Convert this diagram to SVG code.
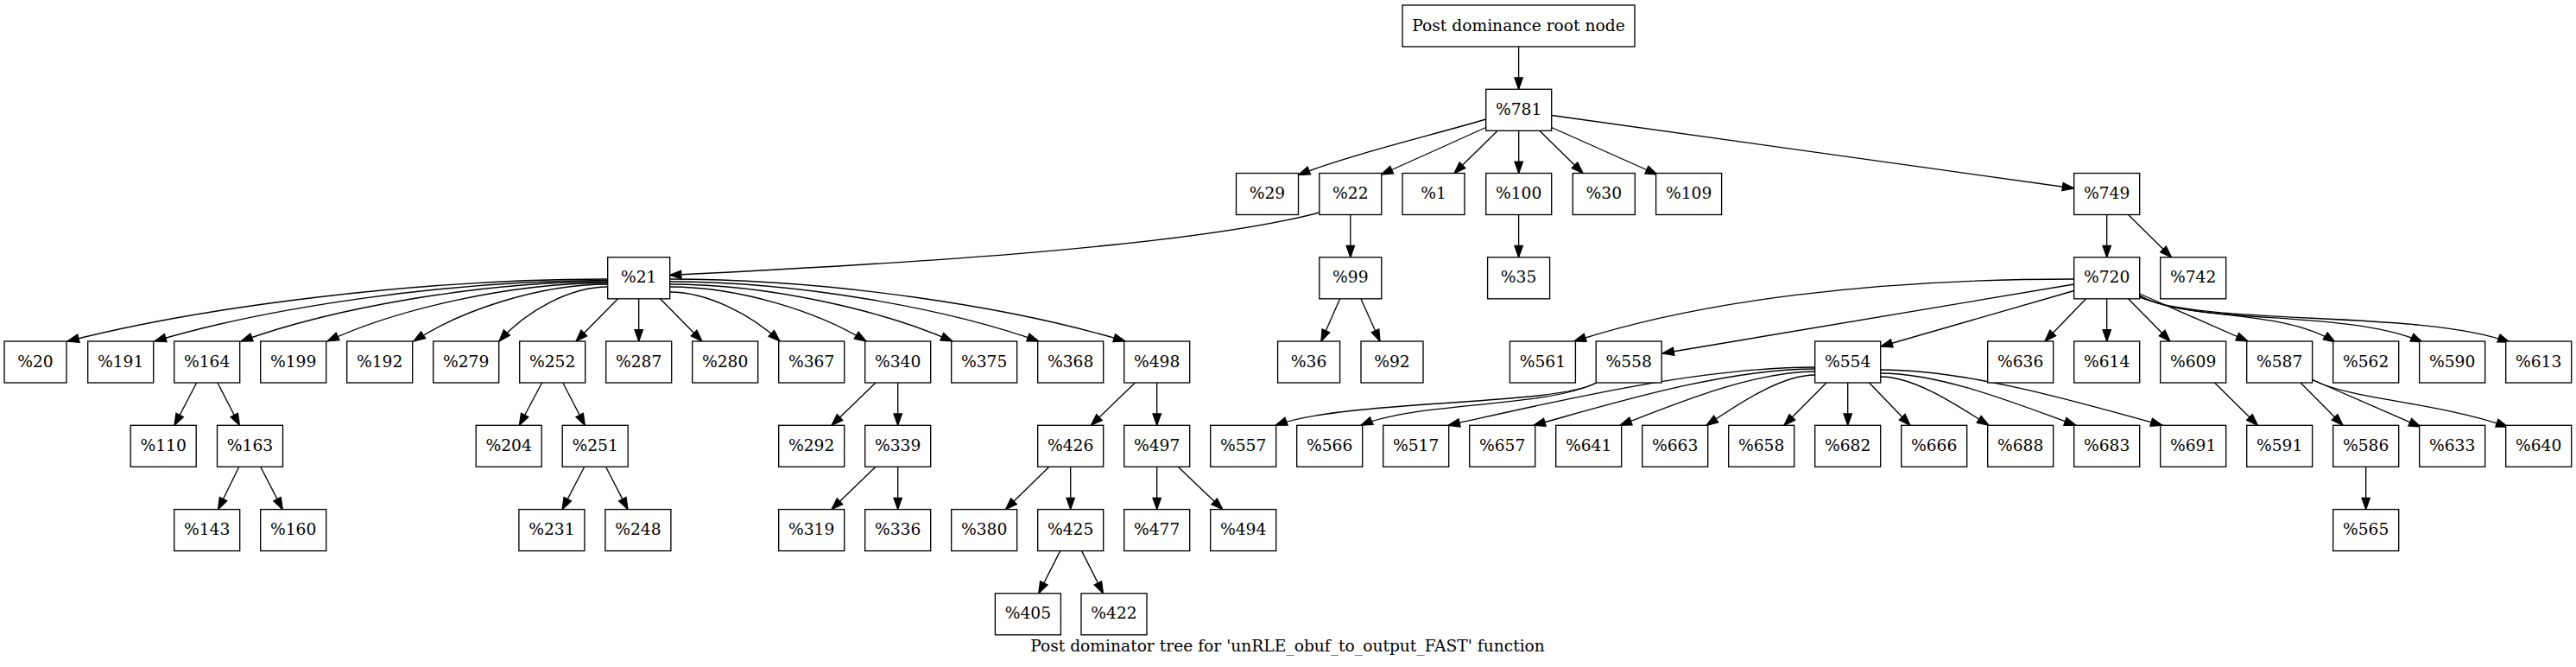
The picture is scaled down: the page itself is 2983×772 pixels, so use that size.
<svg xmlns="http://www.w3.org/2000/svg" width="2983" height="772" viewBox="0 0 2983 772">
<style>
.n rect{fill:#fff;stroke:#000;stroke-width:1.33}
.n text,.cap{font-family:"DejaVu Serif",serif;font-size:18.67px;text-anchor:middle;fill:#000}
.e path{fill:none;stroke:#000;stroke-width:1.33;marker-end:url(#a)}
</style>
<defs>
<marker id="a" viewBox="0 0 14 10" refX="13.3" refY="5" markerWidth="14" markerHeight="10" markerUnits="userSpaceOnUse" orient="auto" overflow="visible">
<path d="M0,0.33 L13.3,5 L0,9.67 Z" fill="#000" stroke="#000" stroke-width="1.33"/>
</marker>
</defs>
<rect width="2983" height="772" fill="#fff"/>
<g id="edges" class="e">
<path d="M1758.6,54 L1758.6,103.3"/>
<path d="M1720.7,138 C1660,156 1560,180 1503.5,202.5"/>
<path d="M1720.7,147.5 L1599.5,202"/>
<path d="M1734,151.5 L1684,200.5"/>
<path d="M1758.7,151.3 L1758.7,200.5"/>
<path d="M1783,151.5 L1833,200.5"/>
<path d="M1796.7,147.5 L1919,202"/>
<path d="M1796.7,133.5 L2401.7,218"/>
<path d="M1527.7,246 C1380,285 1050,305 775.5,318.5"/>
<path d="M1563.8,248.5 L1563.8,297.8"/>
<path d="M1758.6,248.5 L1758.6,297.8"/>
<path d="M2439.7,248.5 L2439.7,297.8"/>
<path d="M2464.5,248.5 L2514.5,297.8"/>
<path d="M1551.7,345.8 L1530,395"/>
<path d="M1575.9,345.8 L1598,395"/>
<path d="M703.7,323 C485,323 234,355 78,395"/>
<path d="M703.7,324.5 C520,324.5 309,356 179,395"/>
<path d="M703.7,326 C555,326 384,357 279,395"/>
<path d="M703.7,327.5 C590,327.5 459,358 379,395"/>
<path d="M703.7,329 C625,329 534,359 479,395"/>
<path d="M703.7,332 C660,332 609,360 578,395"/>
<path d="M715.6,345.8 L667,395"/>
<path d="M739.7,345.8 L739.7,395"/>
<path d="M764.5,345.8 L813,395"/>
<path d="M775.7,338 C819,338 870,364 903,395"/>
<path d="M775.7,332 C855,332 946,360 1003,395"/>
<path d="M775.7,329 C890,329 1021,359 1103,395"/>
<path d="M775.7,326 C925,326 1096,357 1203,395"/>
<path d="M775.7,323 C960,323 1171,355 1303,395"/>
<path d="M227.7,443 L202,492.3"/>
<path d="M251.9,443 L277.4,492.3"/>
<path d="M627.6,443 L601.4,492.3"/>
<path d="M651.8,443 L677.3,492.3"/>
<path d="M276.8,540.3 L252.6,589.6"/>
<path d="M301.7,540.3 L327.2,589.6"/>
<path d="M676.7,540.3 L651.1,589.6"/>
<path d="M701.5,540.3 L727,589.6"/>
<path d="M1014,443 L963,492.3"/>
<path d="M1039.7,443 L1039.7,492.3"/>
<path d="M1014,540.3 L963,589.6"/>
<path d="M1039.7,540.3 L1039.7,589.6"/>
<path d="M1314.4,443 L1263.4,492.3"/>
<path d="M1339.7,443 L1339.7,492.3"/>
<path d="M1214.9,540.3 L1164.5,589.6"/>
<path d="M1239.7,540.3 L1239.7,589.6"/>
<path d="M1339.7,540.3 L1339.7,589.6"/>
<path d="M1364.2,540.3 L1415.8,589.6"/>
<path d="M1227.7,637.6 L1202.8,686.8"/>
<path d="M1252.6,637.6 L1277.4,686.8"/>
<path d="M2401.7,323 C2170,323 1968,348 1823,395"/>
<path d="M2401.7,329 L1925,409"/>
<path d="M2401.7,336.5 L2178,401"/>
<path d="M2415.6,345.8 L2368,395"/>
<path d="M2439.7,345.8 L2439.7,395"/>
<path d="M2464.5,345.8 L2513,395"/>
<path d="M2477.7,340 L2603,395"/>
<path d="M2477.7,342 C2530,372 2640,356 2704,396"/>
<path d="M2477.7,343 C2545,377 2720,358 2805,396"/>
<path d="M2477.7,344 C2560,378 2800,358 2906,396"/>
<path d="M2101.7,425 C1961,425 1783,469 1677,492.3"/>
<path d="M2101.7,427 C1994,427 1857,470 1776,492.3"/>
<path d="M2101.7,430 C2027,430 1932,471 1876,492.3"/>
<path d="M2101.7,434 C2060,434 2007,472 1976,492.3"/>
<path d="M2115,443 L2066,492.3"/>
<path d="M2139.7,443 L2139.7,492.3"/>
<path d="M2164.5,443 L2212,492.3"/>
<path d="M2177.7,436 C2219,436 2272,473 2303,492.3"/>
<path d="M2177.7,432 C2252,432 2347,472 2404,492.3"/>
<path d="M2177.7,428 C2285,428 2422,470 2504,492.3"/>
<path d="M1848.6,443 C1800,470 1560,462 1477,492.3"/>
<path d="M1848.6,443 C1790,472 1640,465 1576,492.3"/>
<path d="M2564.6,443 L2614.4,492.3"/>
<path d="M2664,443 L2713,492.3"/>
<path d="M2677.7,439.5 L2803,494"/>
<path d="M2677.7,439.5 C2720,462 2820,465 2904,494"/>
<path d="M2739.7,540.3 L2739.7,589.6"/>
</g>
<g id="root" class="n"><rect x="1624" y="6" width="269" height="48"/><text x="1758.5" y="35.5">Post dominance root node</text></g>
<g id="n781" class="n"><rect x="1720.7" y="103.3" width="76" height="48"/><text x="1758.7" y="132.8">%781</text></g>
<g id="n29" class="n"><rect x="1431.5" y="200.5" width="72" height="48"/><text x="1467.5" y="230">%29</text></g>
<g id="n22" class="n"><rect x="1527.8" y="200.5" width="72" height="48"/><text x="1563.8" y="230">%22</text></g>
<g id="n1" class="n"><rect x="1624" y="200.5" width="72" height="48"/><text x="1660" y="230">%1</text></g>
<g id="n100" class="n"><rect x="1720.7" y="200.5" width="76" height="48"/><text x="1758.7" y="230">%100</text></g>
<g id="n30" class="n"><rect x="1821.3" y="200.5" width="72" height="48"/><text x="1857.3" y="230">%30</text></g>
<g id="n109" class="n"><rect x="1917.6" y="200.5" width="76" height="48"/><text x="1955.6" y="230">%109</text></g>
<g id="n749" class="n"><rect x="2401.7" y="200.5" width="76" height="48"/><text x="2439.7" y="230">%749</text></g>
<g id="n21" class="n"><rect x="703.7" y="297.8" width="72" height="48"/><text x="739.7" y="327.3">%21</text></g>
<g id="n99" class="n"><rect x="1527.8" y="297.8" width="72" height="48"/><text x="1563.8" y="327.3">%99</text></g>
<g id="n35" class="n"><rect x="1722.6" y="297.8" width="72" height="48"/><text x="1758.6" y="327.3">%35</text></g>
<g id="n720" class="n"><rect x="2401.7" y="297.8" width="76" height="48"/><text x="2439.7" y="327.3">%720</text></g>
<g id="n742" class="n"><rect x="2501.7" y="297.8" width="76" height="48"/><text x="2539.7" y="327.3">%742</text></g>
<g id="n20" class="n"><rect x="5" y="395" width="72" height="48"/><text x="41" y="424.5">%20</text></g>
<g id="n191" class="n"><rect x="101.7" y="395" width="76" height="48"/><text x="139.7" y="424.5">%191</text></g>
<g id="n164" class="n"><rect x="201.7" y="395" width="76" height="48"/><text x="239.7" y="424.5">%164</text></g>
<g id="n199" class="n"><rect x="301.7" y="395" width="76" height="48"/><text x="339.7" y="424.5">%199</text></g>
<g id="n192" class="n"><rect x="401.7" y="395" width="76" height="48"/><text x="439.7" y="424.5">%192</text></g>
<g id="n279" class="n"><rect x="501.7" y="395" width="76" height="48"/><text x="539.7" y="424.5">%279</text></g>
<g id="n252" class="n"><rect x="601.7" y="395" width="76" height="48"/><text x="639.7" y="424.5">%252</text></g>
<g id="n287" class="n"><rect x="701.7" y="395" width="76" height="48"/><text x="739.7" y="424.5">%287</text></g>
<g id="n280" class="n"><rect x="801.7" y="395" width="76" height="48"/><text x="839.7" y="424.5">%280</text></g>
<g id="n367" class="n"><rect x="901.7" y="395" width="76" height="48"/><text x="939.7" y="424.5">%367</text></g>
<g id="n340" class="n"><rect x="1001.7" y="395" width="76" height="48"/><text x="1039.7" y="424.5">%340</text></g>
<g id="n375" class="n"><rect x="1101.7" y="395" width="76" height="48"/><text x="1139.7" y="424.5">%375</text></g>
<g id="n368" class="n"><rect x="1201.7" y="395" width="76" height="48"/><text x="1239.7" y="424.5">%368</text></g>
<g id="n498" class="n"><rect x="1301.7" y="395" width="76" height="48"/><text x="1339.7" y="424.5">%498</text></g>
<g id="n36" class="n"><rect x="1479.6" y="395" width="72" height="48"/><text x="1515.6" y="424.5">%36</text></g>
<g id="n92" class="n"><rect x="1576" y="395" width="72" height="48"/><text x="1612" y="424.5">%92</text></g>
<g id="n561" class="n"><rect x="1748.4" y="395" width="76" height="48"/><text x="1786.4" y="424.5">%561</text></g>
<g id="n558" class="n"><rect x="1848.2" y="395" width="76" height="48"/><text x="1886.2" y="424.5">%558</text></g>
<g id="n554" class="n"><rect x="2101.7" y="395" width="76" height="48"/><text x="2139.7" y="424.5">%554</text></g>
<g id="n636" class="n"><rect x="2301.7" y="395" width="76" height="48"/><text x="2339.7" y="424.5">%636</text></g>
<g id="n614" class="n"><rect x="2401.7" y="395" width="76" height="48"/><text x="2439.7" y="424.5">%614</text></g>
<g id="n609" class="n"><rect x="2501.7" y="395" width="76" height="48"/><text x="2539.7" y="424.5">%609</text></g>
<g id="n587" class="n"><rect x="2601.7" y="395" width="76" height="48"/><text x="2639.7" y="424.5">%587</text></g>
<g id="n562" class="n"><rect x="2701.7" y="395" width="76" height="48"/><text x="2739.7" y="424.5">%562</text></g>
<g id="n590" class="n"><rect x="2801.7" y="395" width="76" height="48"/><text x="2839.7" y="424.5">%590</text></g>
<g id="n613" class="n"><rect x="2901.7" y="395" width="76" height="48"/><text x="2939.7" y="424.5">%613</text></g>
<g id="n110" class="n"><rect x="151.2" y="492.3" width="76" height="48"/><text x="189.2" y="521.8">%110</text></g>
<g id="n163" class="n"><rect x="251.5" y="492.3" width="76" height="48"/><text x="289.5" y="521.8">%163</text></g>
<g id="n204" class="n"><rect x="551.2" y="492.3" width="76" height="48"/><text x="589.2" y="521.8">%204</text></g>
<g id="n251" class="n"><rect x="651.2" y="492.3" width="76" height="48"/><text x="689.2" y="521.8">%251</text></g>
<g id="n292" class="n"><rect x="901.7" y="492.3" width="76" height="48"/><text x="939.7" y="521.8">%292</text></g>
<g id="n339" class="n"><rect x="1001.7" y="492.3" width="76" height="48"/><text x="1039.7" y="521.8">%339</text></g>
<g id="n426" class="n"><rect x="1201.7" y="492.3" width="76" height="48"/><text x="1239.7" y="521.8">%426</text></g>
<g id="n497" class="n"><rect x="1301.7" y="492.3" width="76" height="48"/><text x="1339.7" y="521.8">%497</text></g>
<g id="n557" class="n"><rect x="1401.7" y="492.3" width="76" height="48"/><text x="1439.7" y="521.8">%557</text></g>
<g id="n566" class="n"><rect x="1501.7" y="492.3" width="76" height="48"/><text x="1539.7" y="521.8">%566</text></g>
<g id="n517" class="n"><rect x="1601.7" y="492.3" width="76" height="48"/><text x="1639.7" y="521.8">%517</text></g>
<g id="n657" class="n"><rect x="1701.7" y="492.3" width="76" height="48"/><text x="1739.7" y="521.8">%657</text></g>
<g id="n641" class="n"><rect x="1801.7" y="492.3" width="76" height="48"/><text x="1839.7" y="521.8">%641</text></g>
<g id="n663" class="n"><rect x="1901.7" y="492.3" width="76" height="48"/><text x="1939.7" y="521.8">%663</text></g>
<g id="n658" class="n"><rect x="2001.7" y="492.3" width="76" height="48"/><text x="2039.7" y="521.8">%658</text></g>
<g id="n682" class="n"><rect x="2101.7" y="492.3" width="76" height="48"/><text x="2139.7" y="521.8">%682</text></g>
<g id="n666" class="n"><rect x="2201.7" y="492.3" width="76" height="48"/><text x="2239.7" y="521.8">%666</text></g>
<g id="n688" class="n"><rect x="2301.7" y="492.3" width="76" height="48"/><text x="2339.7" y="521.8">%688</text></g>
<g id="n683" class="n"><rect x="2401.7" y="492.3" width="76" height="48"/><text x="2439.7" y="521.8">%683</text></g>
<g id="n691" class="n"><rect x="2501.7" y="492.3" width="76" height="48"/><text x="2539.7" y="521.8">%691</text></g>
<g id="n591" class="n"><rect x="2601.7" y="492.3" width="76" height="48"/><text x="2639.7" y="521.8">%591</text></g>
<g id="n586" class="n"><rect x="2701.7" y="492.3" width="76" height="48"/><text x="2739.7" y="521.8">%586</text></g>
<g id="n633" class="n"><rect x="2801.7" y="492.3" width="76" height="48"/><text x="2839.7" y="521.8">%633</text></g>
<g id="n640" class="n"><rect x="2901.7" y="492.3" width="76" height="48"/><text x="2939.7" y="521.8">%640</text></g>
<g id="n143" class="n"><rect x="201.7" y="589.6" width="76" height="48"/><text x="239.7" y="619.1">%143</text></g>
<g id="n160" class="n"><rect x="301.7" y="589.6" width="76" height="48"/><text x="339.7" y="619.1">%160</text></g>
<g id="n231" class="n"><rect x="600.9" y="589.6" width="76" height="48"/><text x="638.9" y="619.1">%231</text></g>
<g id="n248" class="n"><rect x="700.9" y="589.6" width="76" height="48"/><text x="738.9" y="619.1">%248</text></g>
<g id="n319" class="n"><rect x="901.7" y="589.6" width="76" height="48"/><text x="939.7" y="619.1">%319</text></g>
<g id="n336" class="n"><rect x="1001.7" y="589.6" width="76" height="48"/><text x="1039.7" y="619.1">%336</text></g>
<g id="n380" class="n"><rect x="1101.7" y="589.6" width="76" height="48"/><text x="1139.7" y="619.1">%380</text></g>
<g id="n425" class="n"><rect x="1201.7" y="589.6" width="76" height="48"/><text x="1239.7" y="619.1">%425</text></g>
<g id="n477" class="n"><rect x="1301.7" y="589.6" width="76" height="48"/><text x="1339.7" y="619.1">%477</text></g>
<g id="n494" class="n"><rect x="1401.7" y="589.6" width="76" height="48"/><text x="1439.7" y="619.1">%494</text></g>
<g id="n565" class="n"><rect x="2701.7" y="589.6" width="76" height="48"/><text x="2739.7" y="619.1">%565</text></g>
<g id="n405" class="n"><rect x="1152.4" y="686.8" width="76" height="48"/><text x="1190.4" y="716.3">%405</text></g>
<g id="n422" class="n"><rect x="1252" y="686.8" width="76" height="48"/><text x="1290" y="716.3">%422</text></g>
<text class="cap" x="1491" y="754">Post dominator tree for 'unRLE_obuf_to_output_FAST' function</text>
</svg>
